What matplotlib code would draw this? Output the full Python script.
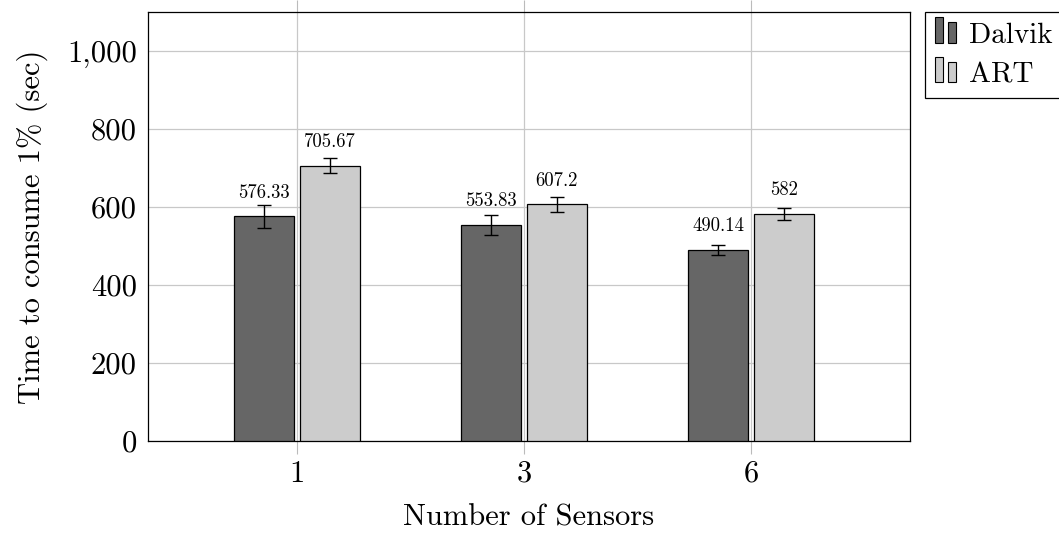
import matplotlib
matplotlib.use('Agg')
import matplotlib.pyplot as plt
from matplotlib.patches import Rectangle
from matplotlib.legend_handler import HandlerBase
from matplotlib.ticker import FuncFormatter
import numpy as np

plt.rcParams['font.family'] = 'serif'
plt.rcParams['font.serif'] = ['cmr10']
plt.rcParams['mathtext.fontset'] = 'cm'
plt.rcParams['axes.formatter.use_mathtext'] = True

# data
sensors = ['1', '3', '6']
dalvik = [576.33, 553.83, 490.14]
art = [705.67, 607.2, 582]
dalvik_err = [29, 25, 13]
art_err = [19, 19, 15]
series = ['Dalvik', 'ART']


class TwoBarHandler(HandlerBase):
    # pgfplots style legend image: two small bars
    def create_artists(self, legend, orig_handle, xdescent, ydescent,
                       width, height, fontsize, trans):
        fc = orig_handle.get_facecolor()
        w = width * 0.28
        r1 = Rectangle((-xdescent, -ydescent), w, height * 1.25,
                       facecolor=fc, edgecolor='black', lw=0.8, transform=trans)
        r2 = Rectangle((-xdescent + w * 1.6, -ydescent), w, height * 1.0,
                       facecolor=fc, edgecolor='black', lw=0.8, transform=trans)
        return [r1, r2]


fig = plt.figure(figsize=(10.59, 5.34), dpi=100)
ax = fig.add_axes([0.1398, 0.1742, 0.7195, 0.8033])

x = np.arange(len(sensors))
off = 0.145
bw = 0.264
b1 = ax.bar(x - off, dalvik, bw, color='#666666', edgecolor='black', lw=0.9,
            yerr=dalvik_err, error_kw=dict(ecolor='black', capsize=5, elinewidth=1, capthick=1),
            label=series[0], zorder=3)
b2 = ax.bar(x + off, art, bw, color='#cccccc', edgecolor='black', lw=0.9,
            yerr=art_err, error_kw=dict(ecolor='black', capsize=5, elinewidth=1, capthick=1),
            label=series[1], zorder=3)

for xs, vals in [(x - off, dalvik), (x + off, art)]:
    for xi, v in zip(xs, vals):
        ax.annotate('%g' % v, (xi, v), xytext=(0, 10.5), textcoords='offset points',
                    ha='center', va='bottom', fontsize=13.5)

ax.set_xlim(-0.656, 2.70)
ax.set_ylim(0, 1100)
ax.set_xticks(x)
ax.set_xticklabels(sensors)
ax.set_yticks([0, 200, 400, 600, 800, 1000])
ax.yaxis.set_major_formatter(FuncFormatter(lambda v, p: '{:,.0f}'.format(v)))
ax.tick_params(axis='both', labelsize=22)
ax.tick_params(axis='y', length=0, pad=8)
ax.tick_params(axis='x', direction='out', length=9, color='#bbbbbb', top=True, pad=5)
ax.grid(True, color='#c8c8c8', lw=0.9, zorder=0)
ax.set_axisbelow(True)
for s in ax.spines.values():
    s.set_linewidth(0.9)

ax.set_xlabel('Number of Sensors', fontsize=22, labelpad=12)
ax.set_ylabel('Time to consume 1% (sec)', fontsize=22, labelpad=14)

leg = fig.legend(handles=[b1.patches[0], b2.patches[0]], labels=series,
                 loc='upper left', bbox_to_anchor=(925 / 1059, 1 - 12 / 534),
                 handler_map={Rectangle: TwoBarHandler()},
                 fontsize=21, fancybox=False, framealpha=1, edgecolor='black',
                 handlelength=1.0, handleheight=0.7, handletextpad=0.15,
                 borderpad=0.35, labelspacing=0.45, borderaxespad=0)
leg.get_frame().set_linewidth(0.9)

fig.savefig('out.png', dpi=100)
